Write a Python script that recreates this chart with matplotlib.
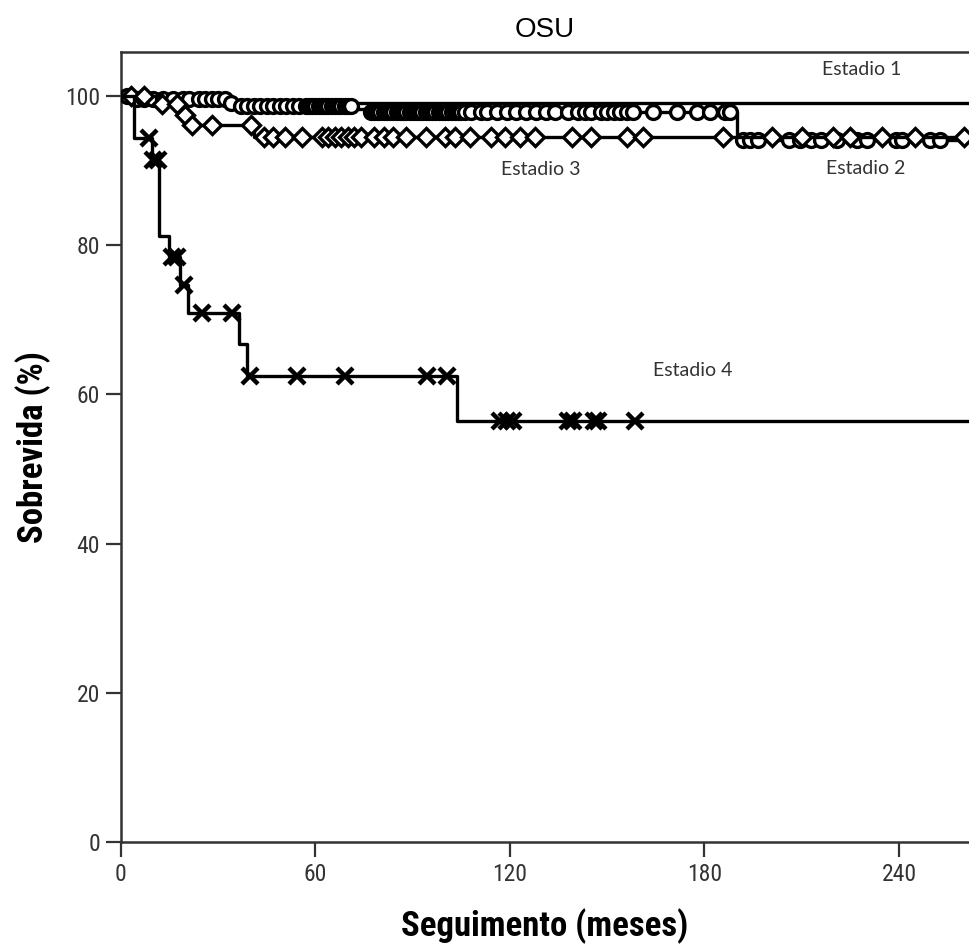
import numpy as np
import matplotlib
matplotlib.use("Agg")
import matplotlib.pyplot as plt
import matplotlib.font_manager as fm

# ── dados (meses, % sobrevida)
e1_times = [0, 3]
e1_surv = [100, 99.0]

e2_times = [0, 3, 33, 36, 72, 76, 190]
e2_surv = [100, 99.6, 99.1, 98.7, 98.3, 97.9, 94.1]
e2_cens = [2, 5, 7, 10, 13, 16, 19, 21, 24, 26, 28, 30, 32,
           34, 37, 39, 41, 43, 45, 47, 49, 51, 53, 55, 57, 58, 59, 60, 61, 62,
           63, 64, 65, 66, 67, 68, 69, 70, 71,
           77, 78, 79, 80, 81, 82, 83, 84, 85, 86, 87, 88, 89, 90, 91, 92, 93,
           94, 95, 96, 97, 98, 99, 100, 101, 102, 103, 104, 105, 106, 108, 111,
           113, 116, 119, 122, 125, 128, 131, 134, 138, 141, 143, 145, 148, 150,
           152, 154, 156, 158, 164, 171.5, 177.7, 181.7, 186.3, 188,
           192, 194, 196.5, 206, 209.5, 213, 216, 220.8, 227, 230, 239, 241,
           249.5, 252.6]

e3_times = [0, 12, 19, 21, 41]
e3_surv = [100, 98.9, 97.4, 96.1, 94.5]
e3_cens = [3, 7, 12.6, 17.3, 19.7, 22, 28, 40, 44, 47, 50.6, 55.8, 62, 64,
           66, 68, 70, 72, 74, 78, 81, 84, 88, 94, 100, 103, 107.6, 114, 118.4,
           123, 127.7, 139, 145, 156, 161, 185.7, 200.8, 210, 219.6, 225,
           234.7, 244.9, 260]

e4_times = [0, 4, 9.6, 11.7, 14.9, 18.2, 20.8, 36.5, 39.0, 103.7]
e4_surv = [100, 94.4, 91.4, 81.3, 78.4, 74.6, 70.9, 66.8, 62.5, 56.5]
e4_cens = [8.7, 9.9, 11.3, 15.6, 17.2, 19.4, 24.9, 34.1, 39.8, 54.2, 69.1,
           94.3, 100.5, 117, 119, 121, 138, 139.5, 146, 147, 158.5]

x_ticks = [0, 60, 120, 180, 240]
y_ticks = [0, 20, 40, 60, 80, 100]
X_MAX = 261.6


def pick_font(cands):
    available = {f.name for f in fm.fontManager.ttflist}
    for c in cands:
        if c in available:
            return c
    return "DejaVu Sans"


narrow = pick_font(["Liberation Sans Narrow", "Roboto Condensed", "Liberation Sans"])
label_font = pick_font(["Lato", "Open Sans", "Noto Sans"])
title_font = pick_font(["Liberation Sans", "Arial", "DejaVu Sans"])


def surv_at(times, surv, t):
    i = np.searchsorted(times, t, side="right") - 1
    return np.asarray(surv)[i]


fig = plt.figure(figsize=(9.69, 9.52), dpi=100)
ax = fig.add_axes([121 / 969, 1 - 842 / 952, 1 - 121 / 969, (842 - 52) / 952])

groups = [
    (e1_times, e1_surv, [], "o", 10),
    (e2_times, e2_surv, e2_cens, "o", 10),
    (e3_times, e3_surv, e3_cens, "D", 9.5),
    (e4_times, e4_surv, e4_cens, "x", 11),
]

for z, (times, surv, cens, mk, ms) in enumerate(groups):
    tt = list(times) + [X_MAX + 5]
    ss = list(surv) + [surv[-1]]
    ax.step(tt, ss, where="post", color="black", lw=2.4, zorder=2 + z)
    if not cens:
        continue
    cy = [surv_at(times, surv, c) for c in cens]
    if mk == "x":
        ax.plot(cens, cy, ls="none", marker=mk, ms=ms, mew=3.2,
                color="black", zorder=2 + z)
    else:
        ax.plot(cens, cy, ls="none", marker=mk, ms=ms, mew=2.4,
                mfc="white", mec="black", zorder=2 + z)

ax.set_xlim(0, X_MAX)
ax.set_ylim(0, 105.9)
ax.set_xticks(x_ticks)
ax.set_yticks(y_ticks)
ax.tick_params(direction="out", length=11, width=1.6, color="#333333",
               labelsize=17, labelcolor="#333333", pad=4)
for lab in ax.get_xticklabels() + ax.get_yticklabels():
    lab.set_fontfamily(narrow)

for side in ("left", "bottom", "top"):
    ax.spines[side].set_linewidth(1.8)
    ax.spines[side].set_color("#333333")
ax.spines["right"].set_visible(False)

ax.set_xlabel("Seguimento (meses)", fontsize=25, fontweight="bold",
              family=narrow, labelpad=16)
ax.set_ylabel("Sobrevida (%)", fontsize=25, fontweight="bold",
              family=narrow, labelpad=10)

txt = dict(fontsize=14, family=label_font, color="#333333",
           ha="center", va="center")
ax.text(228.6, 103.5, "Estadio 1", **txt)
ax.text(129.5, 90.1, "Estadio 3", **txt)
ax.text(229.8, 90.3, "Estadio 2", **txt)
ax.text(176.4, 63.2, "Estadio 4", **txt)

fig.text(545 / 969, 1 - 30 / 952, "OSU", fontsize=20, family=title_font,
         ha="center", va="center")

fig.savefig("out.png", dpi=100)
